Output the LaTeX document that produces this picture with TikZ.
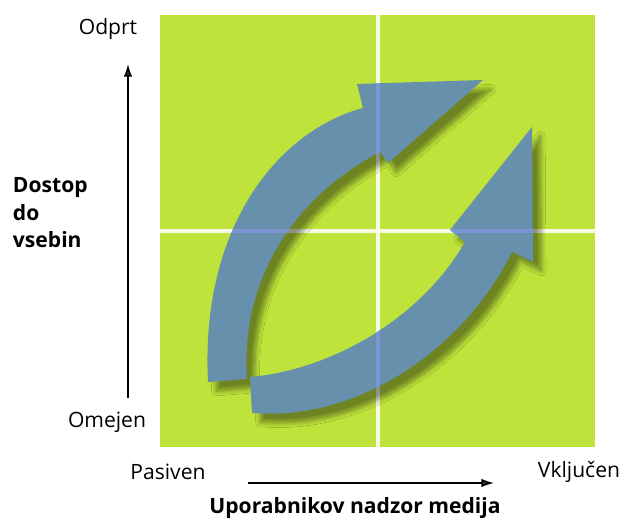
\documentclass[tikz,border=0pt]{standalone}
\usepackage{fontspec}
\setmainfont{Open Sans}
\usetikzlibrary{arrows.meta,shadows.blur}

\definecolor{fieldgreen}{HTML}{BEE33A}
\definecolor{cycleblue}{HTML}{6690AC}
\definecolor{crossblue}{HTML}{7D94D2}
\definecolor{gridwhite}{HTML}{F7FAE6}

% outlines of the two cycle arrows
\newcommand\outerarrow{(208,143) .. controls (200,300) and (280,395) .. (363,417)
  -- (357,441) -- (483,445) -- (388,362) -- (380,373)
  .. controls (298,330) and (240,250) .. (247,146) -- cycle}
\newcommand\innerarrow{(252,112) .. controls (360,103) and (465,178) .. (512,273)
  -- (533,263) -- (532,398) -- (450,295) -- (465,283)
  .. controls (420,205) and (330,155) .. (250,148) -- cycle}

\tikzset{
  lbl/.style={font=\fontsize{15}{19}\selectfont},
  axis/.style={line width=1.1pt,-{Latex[length=9pt,width=6pt]}},
  cyc/.style={fill=cycleblue,blur shadow={shadow xshift=6pt,shadow yshift=-6.5pt,
    shadow opacity=42,shadow blur steps=10,shadow blur radius=3.3pt}},
  grid/.style={line width=2.2pt}
}

\begin{document}
\begin{tikzpicture}[x=0.025cm,y=0.025cm]
\useasboundingbox (0,0) rectangle (630,525);

% field and its quarters
\fill[fieldgreen] (160,78) rectangle (595,510);
\draw[grid,gridwhite] (378,78) -- (378,510);
\draw[grid,gridwhite] (160,294) -- (595,294);

% the cycle
\path[cyc] \outerarrow;
\path[cyc] \innerarrow;
\begin{scope}
  \clip \outerarrow \innerarrow;
  \draw[grid,crossblue] (378,78) -- (378,510);
  \draw[grid,crossblue] (160,294) -- (595,294);
\end{scope}

% vertical axis
\node[lbl] (odprt) at (108,496) {Odprt};
\node[lbl] (omejen) at (107,103) {Omejen};
\coordinate (ybot) at (128,127);
\coordinate (ytop) at (128,461);
\draw[axis] (ybot) -- (ytop);
\node[lbl,font=\fontsize{15}{19.5}\selectfont\bfseries,align=left,anchor=west] (dostop) at (8,312) {Dostop\\do\\vsebin};

% horizontal axis
\node[lbl] (pasiven) at (168,53) {Pasiven};
\node[lbl] (vkljucen) at (579,53) {Vključen};
\coordinate (xleft) at (248,42);
\coordinate (xright) at (494,42);
\draw[axis] (xleft) -- (xright);
\node[lbl,font=\fontsize{15}{19}\selectfont\bfseries] (nadzor) at (355,17) {Uporabnikov nadzor medija};
\end{tikzpicture}
\end{document}
